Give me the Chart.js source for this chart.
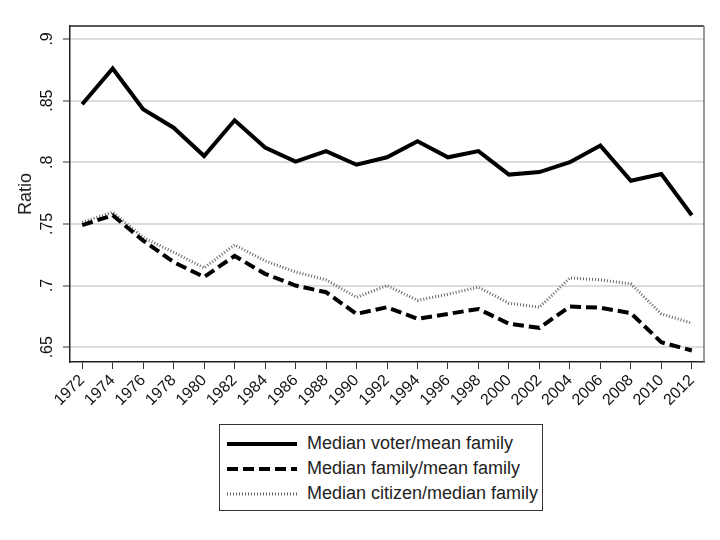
<!DOCTYPE html>
<html>
<head>
<meta charset="utf-8">
<script src="https://cdn.jsdelivr.net/npm/chart.js@4.4.1/dist/chart.umd.min.js"></script>
<style>
  body { margin: 0; background: #fff; }
  #wrap { position: relative; width: 720px; height: 540px; font-family: "Liberation Sans", Arial, sans-serif; }
  #chart-box { position: absolute; left: 0; top: 0; width: 720px; height: 420px; }
  #legend { position: absolute; left: 219px; top: 424px; width: 322px; height: 85px; border: 1px solid #333; }
  #legend ul { list-style: none; margin: 0; padding: 6px 0 0 7px; }
  #legend li { display: flex; align-items: center; height: 25px; font-size: 18px; color: #222; }
  #legend svg { margin-right: 10px; }
</style>
</head>
<body>
<div id="wrap">
  <div id="chart-box"><canvas id="my-chart"></canvas></div>
  <div id="legend"></div>
</div>
<script>
"use strict";

const years = [1972, 1974, 1976, 1978, 1980, 1982, 1984, 1986, 1988, 1990, 1992,
  1994, 1996, 1998, 2000, 2002, 2004, 2006, 2008, 2010, 2012];

const seriesNames = [
  "Median voter/mean family",
  "Median family/mean family",
  "Median citizen/median family",
];

const voterMean = [0.847, 0.876, 0.843, 0.828, 0.805, 0.834, 0.812, 0.8005, 0.809, 0.798, 0.804,
  0.817, 0.804, 0.809, 0.790, 0.792, 0.800, 0.8135, 0.785, 0.7905, 0.757];
const familyMean = [0.749, 0.757, 0.7365, 0.719, 0.707, 0.724, 0.7095, 0.700, 0.6946, 0.677, 0.6824,
  0.673, 0.677, 0.681, 0.669, 0.6657, 0.683, 0.682, 0.6776, 0.654, 0.6473];
const citizenMedian = [0.7514, 0.7595, 0.739, 0.727, 0.7143, 0.733, 0.720, 0.711, 0.7046, 0.6905, 0.700,
  0.688, 0.693, 0.6986, 0.6857, 0.6824, 0.7062, 0.7046, 0.7014, 0.677, 0.6695];

const yTicks = [0.65, 0.7, 0.75, 0.8, 0.85, 0.9];
const yTickLabels = [".65", ".7", ".75", ".8", ".85", ".9"];

// pair years with values for the linear x axis
function toPoints(values) {
  const points = [];
  for (let i = 0; i < years.length; i++) {
    points.push({ x: years[i], y: values[i] });
  }
  return points;
}

// box round the plot area: dark top, grey right side
const frame = {
  id: "frame",
  afterDraw(chart) {
    const { ctx, chartArea } = chart;
    ctx.save();
    ctx.lineWidth = 1.5;
    ctx.strokeStyle = "#222";
    ctx.beginPath();
    ctx.moveTo(chartArea.left, chartArea.top);
    ctx.lineTo(chartArea.right, chartArea.top);
    ctx.stroke();
    ctx.strokeStyle = "#777";
    ctx.beginPath();
    ctx.moveTo(chartArea.right, chartArea.top);
    ctx.lineTo(chartArea.right, chartArea.bottom);
    ctx.stroke();
    ctx.restore();
  },
};

const myChart = new Chart(document.getElementById("my-chart"), {
  type: "line",
  data: {
    datasets: [
      {
        label: seriesNames[0],
        data: toPoints(voterMean),
        borderColor: "#000",
        borderWidth: 4,
      },
      {
        label: seriesNames[1],
        data: toPoints(familyMean),
        borderColor: "#000",
        borderWidth: 4,
        borderDash: [11, 5],
      },
      {
        label: seriesNames[2],
        data: toPoints(citizenMedian),
        borderColor: "#666",
        borderWidth: 3,
        borderDash: [1, 2],
      },
    ],
  },
  options: {
    responsive: true,
    maintainAspectRatio: false,
    animation: false,
    elements: { point: { radius: 0 }, line: { tension: 0 } },
    layout: { padding: { top: 26, right: 16, bottom: 0, left: 0 } },
    plugins: { legend: { display: false }, tooltip: { enabled: false } },
    scales: {
      x: {
        type: "linear",
        min: 1971.2,
        max: 2012.8,
        afterBuildTicks: (scale) => {
          scale.ticks = years.map((v) => ({ value: v }));
        },
        afterFit: (scale) => {
          scale.height = 58;
        },
        ticks: {
          callback: (v) => String(v),
          autoSkip: false,
          minRotation: 45,
          maxRotation: 45,
          padding: 2,
          color: "#111",
          font: { family: "Liberation Sans", size: 16 },
        },
        grid: { display: true, drawOnChartArea: false, tickLength: 7, tickColor: "#333" },
        border: { color: "#222", width: 1.5 },
      },
      y: {
        min: 0.638,
        max: 0.9105,
        afterBuildTicks: (scale) => {
          scale.ticks = yTicks.map((v) => ({ value: v }));
        },
        afterFit: (scale) => {
          scale.width = 70;
        },
        ticks: {
          callback: (v) => yTickLabels[yTicks.indexOf(v)],
          minRotation: 90,
          maxRotation: 90,
          crossAlign: "center",
          padding: 4,
          color: "#111",
          font: { family: "Liberation Sans", size: 16 },
        },
        grid: { color: "#dcdcdc", lineWidth: 2, tickLength: 7, tickColor: "#333", tickWidth: 1 },
        border: { color: "#222", width: 1.5 },
        title: {
          display: true,
          text: "Ratio",
          color: "#222",
          padding: { top: 15, bottom: 0 },
          font: { family: "Liberation Sans", size: 18 },
        },
      },
    },
  },
  plugins: [frame],
});

// legend built from the datasets, one row per series
function renderLegend(chart) {
  const legendBox = document.getElementById("legend");
  const list = document.createElement("ul");

  chart.data.datasets.forEach((ds) => {
    const item = document.createElement("li");
    const dash = ds.borderDash ? ds.borderDash.join(" ") : "none";
    item.innerHTML =
      '<svg width="70" height="8"><line x1="0" y1="4" x2="70" y2="4" stroke="' + ds.borderColor +
      '" stroke-width="' + ds.borderWidth + '" stroke-dasharray="' + dash + '"/></svg>';
    const text = document.createElement("span");
    text.textContent = ds.label;
    item.appendChild(text);
    list.appendChild(item);
  });

  legendBox.appendChild(list);
}

renderLegend(myChart);
</script>
</body>
</html>
